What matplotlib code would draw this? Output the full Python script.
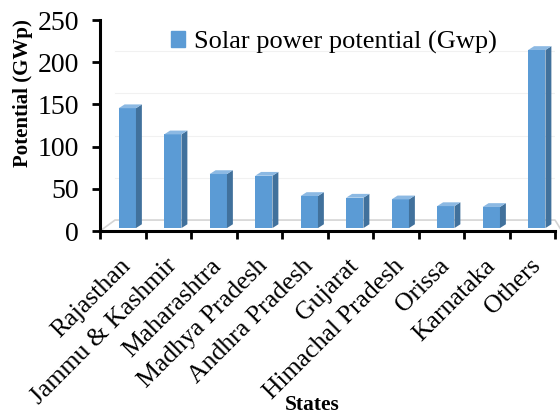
import numpy as np
import matplotlib.pyplot as plt
from matplotlib.patches import Polygon
from matplotlib.transforms import ScaledTranslation

plt.rcParams['font.family'] = ['Liberation Serif', 'DejaVu Serif']

states = ["Rajasthan", "Jammu & Kashmir", "Maharashtra", "Madhya Pradesh",
          "Andhra Pradesh", "Gujarat", "Himachal Pradesh", "Orissa",
          "Karnataka", "Others"]
potential = [142, 111, 64, 62, 38, 36, 34, 26, 25, 211]
yticks = [0, 50, 100, 150, 200, 250]

# pseudo 3D look (Excel style columns)
front = "#5b9bd5"
side = "#41719c"
top = "#8cb9e3"
base = 3.5      # bars sit a little behind the front edge of the floor
depth = 13      # floor depth in data units
dx, dy = 0.13, 4.5
w = 0.38

fig = plt.figure(figsize=(5.6, 4.17), dpi=100)
ax = fig.add_axes([0.1786, 0.446, 0.8125, 0.506])

x = np.arange(len(states))

# back wall gridlines and floor
for v in yticks[1:]:
    ax.plot([-0.5 + 0.33, 9.5], [v + depth, v + depth], color="#f1f1f1", lw=0.8, zorder=0)
ax.plot([-0.5, -0.5 + 0.33, 9.5, 9.5 + 0.15], [0, depth, depth, 0],
        color="#d4d4d4", lw=1.2, zorder=1, clip_on=False)

for xi, v in zip(x, potential):
    x0 = xi + 0.1 - w / 2
    x1 = x0 + w
    ax.bar(x0, v, width=w, bottom=base, align="edge", color=front,
           edgecolor="none", zorder=3)
    ax.add_patch(Polygon([(x1, base), (x1 + dx, base + dy),
                          (x1 + dx, base + v + dy), (x1, base + v)],
                         closed=True, facecolor=side, edgecolor="none", zorder=3))
    ax.add_patch(Polygon([(x0, base + v), (x1, base + v),
                          (x1 + dx, base + v + dy), (x0 + dx, base + v + dy)],
                         closed=True, facecolor=top, edgecolor="none", zorder=3))

ax.set_xlim(-0.5, 9.5)
ax.set_ylim(0, 250)

ax.spines["top"].set_visible(False)
ax.spines["right"].set_visible(False)
ax.spines["left"].set_linewidth(2.2)
ax.spines["bottom"].set_linewidth(2.2)

ax.set_yticks(yticks)
ax.set_yticklabels([str(t) for t in yticks], fontsize=20)
ax.tick_params(axis="y", direction="out", length=6, width=2, pad=9)

# tick marks between categories, labels under each column
ax.set_xticks(np.arange(-0.5, 10, 1.0))
ax.set_xticklabels([])
ax.tick_params(axis="x", which="major", direction="out", length=6, width=2)
ax.set_xticks(x, minor=True)
ax.set_xticklabels(states, minor=True, rotation=45, ha="right",
                   rotation_mode="anchor", fontsize=18.5)
ax.tick_params(axis="x", which="minor", length=0, pad=17)
shift = ScaledTranslation(-3 / 100, 0, fig.dpi_scale_trans)
for lbl in ax.get_xticklabels(minor=True):
    lbl.set_transform(lbl.get_transform() + shift)

ax.set_ylabel("Potential (GWp)", fontsize=15, fontweight="bold")
ax.yaxis.set_label_coords(-0.147, 0.654)
fig.text(0.558, 0.004, "States", fontsize=15.5, fontweight="bold", ha="center", va="bottom")

handle = plt.Rectangle((0, 0), 1, 1, color=front)
ax.legend([handle], ["Solar power potential (Gwp)"], loc="upper left",
          bbox_to_anchor=(0.103, 1.06), frameon=False, fontsize=19,
          handlelength=0.55, handleheight=0.55, handletextpad=0.35)

fig.savefig("out.png", dpi=100)
